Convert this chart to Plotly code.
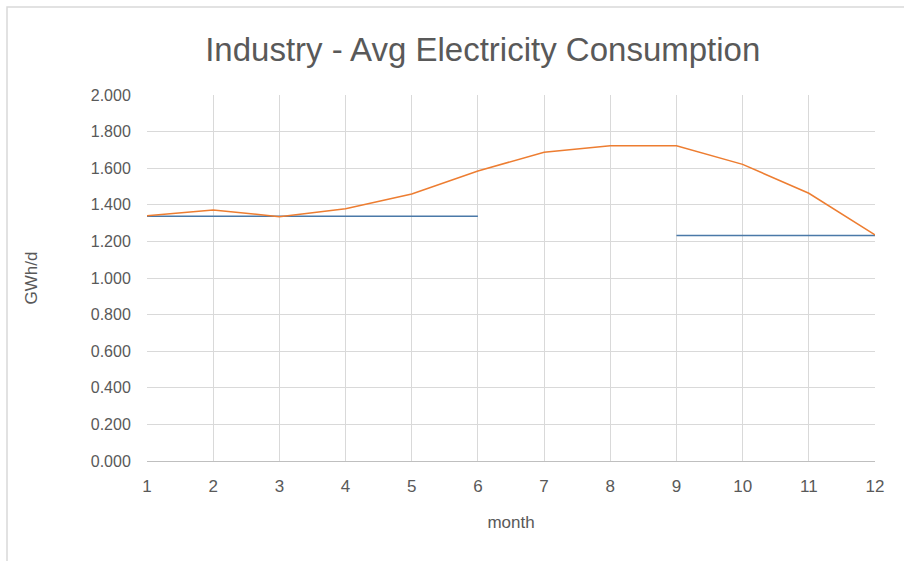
import plotly.graph_objects as go

# Monthly average electricity consumption of industry (GWh per day)
months = [1, 2, 3, 4, 5, 6, 7, 8, 9, 10, 11, 12]
consumption = [1.340, 1.372, 1.335, 1.379, 1.459, 1.585, 1.687, 1.723, 1.723, 1.621, 1.463, 1.235]
# Reference level, defined for the first half and last quarter of the year
reference_level = [1.338, 1.338, 1.338, 1.338, 1.338, 1.338, None, None, 1.232, 1.232, 1.232, 1.232]

y_ticks = [0.0, 0.2, 0.4, 0.6, 0.8, 1.0, 1.2, 1.4, 1.6, 1.8, 2.0]

font_main = "Liberation Sans, Arial, sans-serif"
text_grey = "#595959"
grid_grey = "#d9d9d9"

fig = go.Figure()

fig.add_trace(go.Scatter(
    x=months, y=reference_level, mode="lines", name="Reference level",
    line=dict(color="#4a79a8", width=1.5), connectgaps=False,
))
fig.add_trace(go.Scatter(
    x=months, y=consumption, mode="lines", name="Consumption",
    line=dict(color="#ed7d31", width=1.5),
))

fig.update_layout(
    width=904, height=561,
    margin=dict(l=147, r=29, t=95, b=100),
    paper_bgcolor="white", plot_bgcolor="white",
    showlegend=False,
    title=dict(
        text="Industry - Avg Electricity Consumption",
        x=0.534, xanchor="center", y=0.912, yanchor="middle",
        font=dict(family=font_main, size=33, color=text_grey),
    ),
    font=dict(family=font_main, size=16, color=text_grey),
    xaxis=dict(
        range=[1, 12], tickmode="array", tickvals=months,
        showgrid=True, gridcolor=grid_grey, gridwidth=1,
        showline=True, linecolor="#bfbfbf", linewidth=1,
        zeroline=False,
        ticks="outside", ticklen=10, tickcolor="rgba(0,0,0,0)",
        tickfont=dict(size=17, color=text_grey),
        title=dict(text="month", font=dict(size=17, color=text_grey), standoff=20),
    ),
    yaxis=dict(
        range=[0, 2.0], tickmode="array", tickvals=y_ticks, tickformat=".3f",
        showgrid=True, gridcolor=grid_grey, gridwidth=1,
        showline=False, zeroline=False,
        ticks="outside", ticklen=12, tickcolor="rgba(0,0,0,0)",
        tickfont=dict(size=16, color=text_grey),
        title=dict(text="GWh/d", font=dict(size=17, color=text_grey), standoff=48),
    ),
    shapes=[
        # chart frame
        dict(type="rect", xref="paper", yref="paper",
             x0=-0.1923, x1=1.2, y0=-0.35, y1=1.2404,
             line=dict(color="#d9d9d9", width=1.5), fillcolor="rgba(0,0,0,0)", layer="below"),
    ],
)

fig.write_html("out.html")
